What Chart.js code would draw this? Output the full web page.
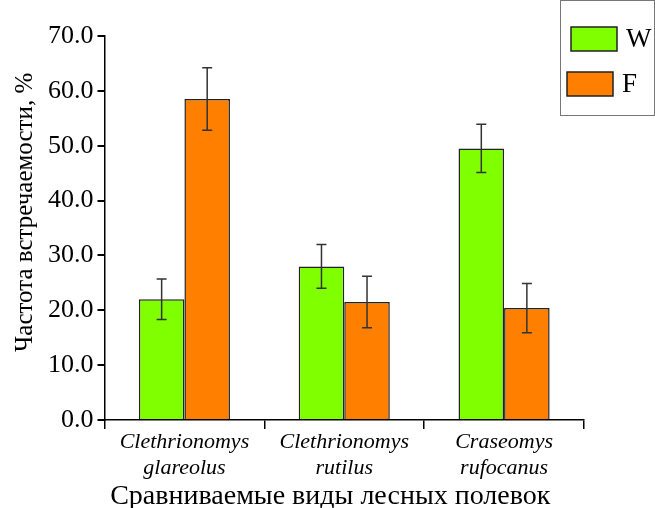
<!DOCTYPE html>
<html>
<head>
<meta charset="utf-8">
<script src="https://cdn.jsdelivr.net/npm/chart.js@4/dist/chart.umd.min.js"></script>
<style>
  body { margin: 0; background: #fff; }
  #wrap { width: 655px; height: 508px; }
</style>
</head>
<body>
<div id="wrap"><canvas id="myChart"></canvas></div>
<script>
// данные
const species = [['Clethrionomys', 'glareolus'], ['Clethrionomys', 'rutilus'], ['Craseomys', 'rufocanus']];
const seriesNames = ['W', 'F'];
const valuesW = [22.0, 28.0, 49.5];
const valuesF = [58.5, 21.5, 20.4];
const errorsW = [3.7, 4.0, 4.4];
const errorsF = [5.7, 4.7, 4.5];
const yTicks = [0, 10, 20, 30, 40, 50, 60, 70];

const serif = "'Liberation Serif', 'Times New Roman', serif";

// усы погрешностей
const errorBars = {
    id: 'errorBars',
    afterDatasetsDraw(chart) {
        const ctx = chart.ctx;
        const y = chart.scales.y;
        ctx.save();
        ctx.strokeStyle = '#333';
        ctx.lineWidth = 1.5;
        chart.data.datasets.forEach((ds, i) => {
            const meta = chart.getDatasetMeta(i);
            meta.data.forEach((bar, j) => {
                const v = ds.data[j], e = ds.errors[j];
                const top = y.getPixelForValue(v + e);
                const bot = y.getPixelForValue(v - e);
                ctx.beginPath();
                ctx.moveTo(bar.x, top); ctx.lineTo(bar.x, bot);
                ctx.moveTo(bar.x - 5, top); ctx.lineTo(bar.x + 5, top);
                ctx.moveTo(bar.x - 5, bot); ctx.lineTo(bar.x + 5, bot);
                ctx.stroke();
            });
        });
        ctx.restore();
    }
};

// легенда в рамке справа сверху
const boxLegend = {
    id: 'boxLegend',
    afterDraw(chart) {
        const ctx = chart.ctx;
        ctx.save();
        ctx.strokeStyle = '#777';
        ctx.lineWidth = 1;
        ctx.strokeRect(560.5, 0.5, 94, 115);
        const rows = [{x: 571, y: 27}, {x: 567, y: 72}];
        chart.data.datasets.forEach((ds, i) => {
            const r = rows[i];
            ctx.fillStyle = ds.backgroundColor;
            ctx.fillRect(r.x, r.y, 46, 24);
            ctx.strokeStyle = '#222';
            ctx.lineWidth = 1.5;
            ctx.strokeRect(r.x, r.y, 46, 24);
            ctx.fillStyle = '#000';
            ctx.font = '27px ' + serif;
            ctx.textBaseline = 'middle';
            ctx.fillText(ds.label, r.x + 55, r.y + 13);
        });
        ctx.restore();
    }
};

const ctx = document.getElementById('myChart');
new Chart(ctx, {
    type: 'bar',
    data: {
        labels: species,
        datasets: [{
            label: seriesNames[0],
            data: valuesW,
            errors: errorsW,
            backgroundColor: '#80ff00',
            borderColor: '#222',
            borderWidth: 1.5,
            barPercentage: 1,
            categoryPercentage: 0.57,
        }, {
            label: seriesNames[1],
            data: valuesF,
            errors: errorsF,
            backgroundColor: '#ff8000',
            borderColor: '#222',
            borderWidth: 1.5,
            barPercentage: 1,
            categoryPercentage: 0.57,
        }],
    },
    options: {
        responsive: true,
        maintainAspectRatio: false,
        animation: false,
        layout: { padding: { top: 36, right: 71, left: 6, bottom: 0 } },
        plugins: {
            legend: { display: false },
            tooltip: { enabled: false },
        },
        scales: {
            x: {
                grid: { offset: true, drawOnChartArea: false, tickLength: 9, color: '#000', lineWidth: 1.5 },
                border: { color: '#000', width: 1.5 },
                ticks: { color: '#000', font: { family: serif, size: 22, style: 'italic', lineHeight: 1.15 }, padding: 1 },
                title: { display: true, text: 'Сравниваемые виды лесных полевок\u00a0\u00a0\u00a0\u00a0', color: '#000',
                         font: { family: serif, size: 28, lineHeight: 0.8 }, padding: { top: 4, bottom: 0 } },
            },
            y: {
                min: 0,
                max: 70,
                afterBuildTicks(axis) { axis.ticks = yTicks.map(v => ({ value: v })); },
                grid: { drawOnChartArea: false, tickLength: 7, color: '#000', lineWidth: 2 },
                border: { color: '#000', width: 1.5 },
                ticks: { color: '#000', font: { family: serif, size: 26 }, padding: 4,
                         callback: v => v.toFixed(1) },
                title: { display: true, text: '\u00a0\u00a0\u00a0\u00a0\u00a0Частота встречаемости, %', color: '#000',
                         font: { family: serif, size: 25 }, padding: { bottom: 4 } },
            },
        },
    },
    plugins: [errorBars, boxLegend],
});
</script>
</body>
</html>
